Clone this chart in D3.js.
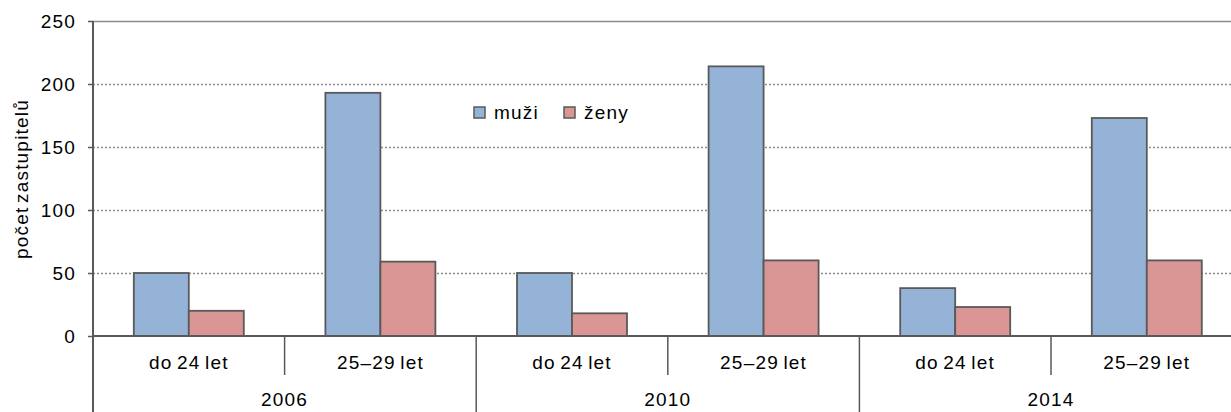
<!DOCTYPE html>
<html>
<head>
<meta charset="utf-8">
<script src="https://cdn.jsdelivr.net/npm/d3@7"></script>
<style>
  body { margin: 0; background: #fff; }
  svg { display: block; font-family: "Liberation Sans", Arial, sans-serif; }
  text { fill: #000; }
</style>
</head>
<body>
<svg id="chart" width="1231" height="412"></svg>
<script>
// data
const years = ["2006", "2010", "2014"];
const ageGroups = ["do 24 let", "25–29 let"];
const series = ["muži", "ženy"];
const muzi = [50, 193, 50, 214, 38, 173];
const zeny = [20, 59, 18, 60, 23, 60];
const yTicks = [0, 50, 100, 150, 200, 250];

const colors = { "muži": "#95b3d7", "ženy": "#d99694" };
const axisColor = "#595959";
const fontSize = 19;
const spacing = "1.2px";

const svg = d3.select("#chart");
const width = 1231, height = 412;
const plotLeft = 93, plotTop = 21, plotBottom = 336;
const catStep = 191.6;

// one row per year/age group
const rows = [];
years.forEach((yr, i) => {
    ageGroups.forEach((a, j) => {
        const k = i * ageGroups.length + j;
        rows.push({ key: yr + "|" + a, year: yr, age: a, values: { "muži": muzi[k], "ženy": zeny[k] } });
    });
});

// plot runs past the right edge of the picture (clipped like the original)
const x0 = d3.scaleBand()
    .domain(rows.map(d => d.key))
    .range([plotLeft, plotLeft + catStep * rows.length])
    .padding(0);

const x1 = d3.scaleBand()
    .domain(series)
    .range([0, x0.bandwidth()])
    .paddingInner(0)
    .paddingOuter(0.742);

const y = d3.scaleLinear().domain([0, 250]).range([plotBottom, plotTop]);

// gridlines
svg.append("g")
    .selectAll("line")
    .data(yTicks.filter(t => t > 0 && t < 250))
    .join("line")
    .attr("x1", plotLeft)
    .attr("x2", width)
    .attr("y1", d => Math.round(y(d)) + 0.5)
    .attr("y2", d => Math.round(y(d)) + 0.5)
    .attr("stroke", "#8c8c8c")
    .attr("stroke-width", 1.3)
    .attr("stroke-dasharray", "2,2");

// top border
svg.append("line")
    .attr("x1", plotLeft).attr("x2", width)
    .attr("y1", y(250) + 0.5).attr("y2", y(250) + 0.5)
    .attr("stroke", "#8c8c8c").attr("stroke-width", 1.5);

// bars
const groups = svg.append("g")
    .selectAll("g")
    .data(rows)
    .join("g")
    .attr("transform", d => `translate(${x0(d.key)},0)`);

groups.selectAll("rect")
    .data(d => series.map(s => ({ s, v: d.values[s] })))
    .join("rect")
    .attr("x", d => x1(d.s))
    .attr("y", d => y(d.v))
    .attr("width", x1.bandwidth())
    .attr("height", d => y(0) - y(d.v))
    .attr("fill", d => colors[d.s])
    .attr("stroke", axisColor)
    .attr("stroke-width", 1.8);

// y axis
const yAxis = svg.append("g")
    .attr("transform", `translate(${plotLeft},0)`)
    .call(d3.axisLeft(y).tickValues(yTicks).tickSize(5).tickPadding(12));
yAxis.select(".domain").remove();
yAxis.selectAll(".tick line").attr("stroke", axisColor).attr("stroke-width", 1.5);
yAxis.selectAll(".tick text")
    .attr("font-size", fontSize)
    .attr("letter-spacing", spacing)
    .attr("fill", "#000");

svg.append("line")
    .attr("x1", plotLeft).attr("x2", plotLeft)
    .attr("y1", plotTop).attr("y2", height)
    .attr("stroke", axisColor).attr("stroke-width", 2);

// x axis line
svg.append("line")
    .attr("x1", plotLeft).attr("x2", width)
    .attr("y1", plotBottom).attr("y2", plotBottom)
    .attr("stroke", axisColor).attr("stroke-width", 2);

// separators between age groups and years
svg.append("g")
    .selectAll("line")
    .data(rows.slice(1))
    .join("line")
    .attr("x1", d => x0(d.key))
    .attr("x2", d => x0(d.key))
    .attr("y1", plotBottom)
    .attr("y2", d => d.age === ageGroups[0] ? height : 375)
    .attr("stroke", axisColor)
    .attr("stroke-width", 1.5);

// age group labels
svg.append("g")
    .selectAll("text")
    .data(rows)
    .join("text")
    .attr("x", d => x0(d.key) + x0.bandwidth() / 2)
    .attr("y", 369)
    .attr("text-anchor", "middle")
    .attr("font-size", fontSize)
    .attr("letter-spacing", spacing)
    .attr("word-spacing", "-2px")
    .text(d => d.age);

// year labels
svg.append("g")
    .selectAll("text")
    .data(years)
    .join("text")
    .attr("x", d => x0(d + "|" + ageGroups[0]) + x0.bandwidth())
    .attr("y", 406)
    .attr("text-anchor", "middle")
    .attr("font-size", fontSize)
    .attr("letter-spacing", spacing)
    .text(d => d);

// y title
svg.append("text")
    .attr("transform", "translate(28,179) rotate(-90)")
    .attr("text-anchor", "middle")
    .attr("font-size", fontSize)
    .attr("letter-spacing", spacing)
    .attr("word-spacing", "-3px")
    .text("počet zastupitelů");

// legend
const legend = svg.append("g")
    .selectAll("g")
    .data(series)
    .join("g")
    .attr("transform", (d, i) => `translate(${474 + i * 90},107)`);

legend.append("rect")
    .attr("width", 11)
    .attr("height", 11)
    .attr("fill", d => colors[d])
    .attr("stroke", axisColor)
    .attr("stroke-width", 1.5);

legend.append("text")
    .attr("x", 20)
    .attr("y", 12)
    .attr("font-size", fontSize)
    .attr("letter-spacing", spacing)
    .text(d => d);
</script>
</body>
</html>
